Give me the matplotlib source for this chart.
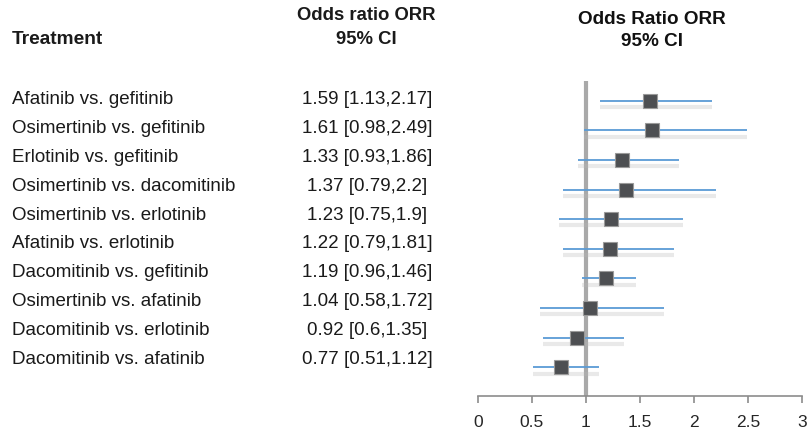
import matplotlib
matplotlib.use("Agg")
import matplotlib.pyplot as plt
import matplotlib.patheffects as pe

# Datos del forest plot
tratamientos = [
    "Afatinib vs. gefitinib",
    "Osimertinib vs. gefitinib",
    "Erlotinib vs. gefitinib",
    "Osimertinib vs. dacomitinib",
    "Osimertinib vs. erlotinib",
    "Afatinib vs. erlotinib",
    "Dacomitinib vs. gefitinib",
    "Osimertinib vs. afatinib",
    "Dacomitinib vs. erlotinib",
    "Dacomitinib vs. afatinib",
]
orr = [1.59, 1.61, 1.33, 1.37, 1.23, 1.22, 1.19, 1.04, 0.92, 0.77]
ic_inf = [1.13, 0.98, 0.93, 0.79, 0.75, 0.79, 0.96, 0.58, 0.6, 0.51]
ic_sup = [2.17, 2.49, 1.86, 2.2, 1.9, 1.81, 1.46, 1.72, 1.35, 1.12]
texto_ic = [
    "1.59 [1.13,2.17]", "1.61 [0.98,2.49]", "1.33 [0.93,1.86]",
    "1.37 [0.79,2.2]", "1.23 [0.75,1.9]", "1.22 [0.79,1.81]",
    "1.19 [0.96,1.46]", "1.04 [0.58,1.72]", "0.92 [0.6,1.35]",
    "0.77 [0.51,1.12]",
]
ticks_x = [0, 0.5, 1, 1.5, 2, 2.5, 3]

W, H = 808, 435
fig = plt.figure(figsize=(W / 100, H / 100), dpi=100)
plt.rcParams['font.family'] = ['Liberation Sans', 'DejaVu Sans']

# Columnas de texto (coordenadas en pixeles convertidas a figura)
def fy(py):
    return 1 - py / H

fig.text(12 / W, fy(40), "Treatment", fontsize=13.8, fontweight="bold",
         ha="left", va="center", color="#1a1a1a")
fig.text(366 / W, fy(16), "Odds ratio ORR", fontsize=13.3, fontweight="bold",
         ha="center", va="center", color="#1a1a1a")
fig.text(366 / W, fy(39), "95% CI", fontsize=13.3, fontweight="bold",
         ha="center", va="center", color="#1a1a1a")
fig.text(652 / W, fy(19), "Odds Ratio ORR", fontsize=13.6, fontweight="bold",
         ha="center", va="center", color="#111111")
fig.text(652 / W, fy(42), "95% CI", fontsize=13.6, fontweight="bold",
         ha="center", va="center", color="#111111")

for i, (t, v) in enumerate(zip(tratamientos, texto_ic)):
    y = fy(100 + i * 28.8)
    fig.text(12 / W, y, t, fontsize=13.5, ha="left", va="center", color="#1a1a1a")
    fig.text(367 / W, y, v, fontsize=13.5, ha="center", va="center", color="#1a1a1a")

# Panel del forest plot
ax = fig.add_axes([477.7 / W, 38 / H, 324.6 / W, 315 / H])
filas = list(range(len(orr)))

ax.axvline(1, color="#a9a9a9", lw=3, zorder=1)

sombra = [pe.SimpleLineShadow(offset=(0, -4.5), shadow_color="#b8b8b8",
                              alpha=0.3, linewidth=3), pe.Normal()]
ax.hlines(filas, ic_inf, ic_sup, color="#5b9bd5", lw=1.3, zorder=2,
          path_effects=sombra)
ax.plot(orr, filas, ls="none", marker="s", ms=9.5, mfc="#4d4f52",
        mec="#9a9a9a", mew=0.8, zorder=3)

ax.set_xlim(0, 3)
ax.set_ylim(9.97, -0.665)
ax.set_xticks(ticks_x)
ax.set_xticklabels([f"{t:g}" for t in ticks_x])
ax.set_yticks([])
for s in ("left", "top", "right"):
    ax.spines[s].set_visible(False)
ax.spines["bottom"].set_color("#8c8c8c")
ax.spines["bottom"].set_linewidth(1.2)
ax.tick_params(axis="x", length=5, width=1.2, color="#8c8c8c", pad=8,
               labelsize=12.5, labelcolor="#262626")
ax.patch.set_alpha(0)

fig.savefig("out.png", dpi=100)
